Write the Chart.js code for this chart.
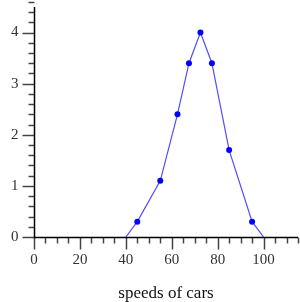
<!DOCTYPE html>
<html><head><meta charset="utf-8">
<script src="https://cdn.jsdelivr.net/npm/chart.js@4/dist/chart.umd.min.js"></script>
<style>html,body{margin:0;padding:0;background:#fff}#wrap{width:300px;height:302px}</style>
</head><body><div id="wrap"><canvas id="c"></canvas></div>
<script>
const speeds = [40, 45, 55, 62.5, 67.5, 72.5, 77.5, 85, 95, 100];
const counts = [0, 0.3, 1.1, 2.4, 3.4, 4, 3.4, 1.7, 0.3, 0];
const xTickLabels = [0, 20, 40, 60, 80, 100];
const yTickLabels = [0, 1, 2, 3, 4];
const xTitle = 'speeds of cars';

const FONT = '"Liberation Serif", "Times New Roman", serif';

const axesPlugin = {
  id: 'axesPlugin',
  afterDraw(chart) {
    const ctx = chart.ctx, xs = chart.scales.x, ys = chart.scales.y;
    const a = chart.chartArea;
    const x0 = Math.round(xs.getPixelForValue(0)) + 0.5;
    const y0 = Math.round(ys.getPixelForValue(0)) + 0.5;
    ctx.save();
    ctx.strokeStyle = '#444';
    ctx.lineWidth = 1.5;
    for (let v = 0; v <= xs.max + 1e-9; v += 5) {
      const px = Math.round(xs.getPixelForValue(v)) + 0.5;
      const len = v % 20 === 0 ? 12 : 6;
      ctx.beginPath(); ctx.moveTo(px, y0); ctx.lineTo(px, y0 + len); ctx.stroke();
    }
    for (let i = 0; i <= Math.round(ys.max / 0.2); i++) {
      const v = i * 0.2;
      const py = Math.round(ys.getPixelForValue(v)) + 0.5;
      const len = i % 5 === 0 ? 12 : 6;
      ctx.beginPath(); ctx.moveTo(x0, py); ctx.lineTo(x0 - len, py); ctx.stroke();
    }
    ctx.strokeStyle = '#000';
    ctx.lineWidth = 1.5;
    ctx.beginPath(); ctx.moveTo(x0, a.top); ctx.lineTo(x0, y0); ctx.lineTo(a.right, y0); ctx.stroke();
    ctx.fillStyle = '#333';
    ctx.font = '15px ' + FONT;
    ctx.textAlign = 'center'; ctx.textBaseline = 'middle';
    xTickLabels.forEach(v => ctx.fillText(String(v), xs.getPixelForValue(v), y0 + 23));
    ctx.textAlign = 'right';
    yTickLabels.forEach(v => ctx.fillText(String(v), x0 - 16, ys.getPixelForValue(v)));
    ctx.fillStyle = '#111';
    ctx.font = '17px ' + FONT;
    ctx.textAlign = 'center';
    ctx.fillText(xTitle, (a.left + a.right) / 2, y0 + 56);
    ctx.restore();
  }
};

new Chart(document.getElementById('c'), {
  type: 'scatter',
  data: {
    datasets: [{
      data: speeds.map((s, i) => ({x: s, y: counts[i]})),
      showLine: true,
      borderColor: 'rgba(60,60,255,0.9)',
      borderWidth: 1.2,
      backgroundColor: '#0000ff',
      pointBackgroundColor: '#0000ff',
      pointBorderColor: '#0000ff',
      pointRadius: speeds.map((s, i) => (i === 0 || i === speeds.length - 1) ? 0 : 3),
      pointBorderWidth: 0
    }]
  },
  options: {
    responsive: true, maintainAspectRatio: false, animation: false,
    layout: {padding: {left: 34, right: 2, top: 7, bottom: 65}},
    plugins: {legend: {display: false}, tooltip: {enabled: false}},
    scales: {
      x: {type: 'linear', min: 0, max: 115, display: false},
      y: {type: 'linear', min: 0, max: 4.5, display: false}
    }
  },
  plugins: [axesPlugin]
});
</script></body></html>
